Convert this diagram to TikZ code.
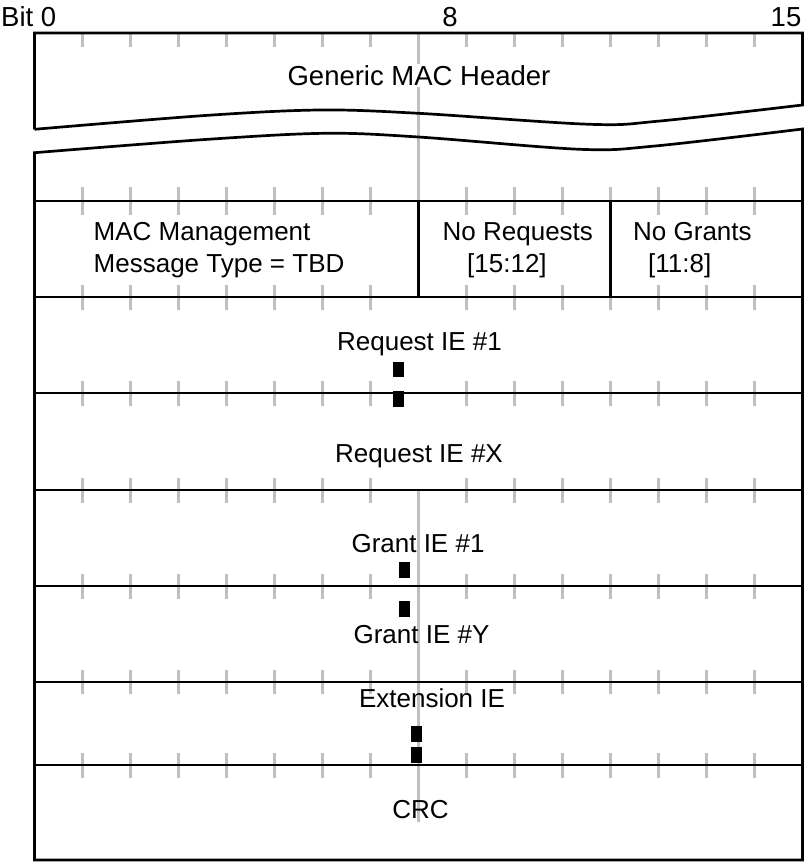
\documentclass[tikz,border=0pt]{standalone}
\usepackage{fontspec}
\setmainfont{Liberation Sans}
\definecolor{tickgray}{RGB}{192,192,192}
\begin{document}
\begin{tikzpicture}[x=1pt,y=-1pt,
  frame/.style={line width=2.7pt, black, line join=miter},
  tickln/.style={line width=2.5pt, tickgray},
  lbl/.style={inner sep=0pt, font=\fontsize{26}{31}\selectfont},
  toplbl/.style={inner sep=0pt, font=\fontsize{27.5}{32}\selectfont},
  blk/.style={fill=black}]
\useasboundingbox (0,0) rectangle (804,862);
% top ticks
\foreach \i in {1,...,7,9,10,11,12,13,14,15} {\draw[tickln] ({34.5+48*\i},33) -- ++(0,14);}
% boundary ticks (not at centre)
\foreach \y/\a/\b in {201/14/14,297/12/13,393/12/13,490/12/13,586/12/13,682/12/12,765/12/13} {
  \foreach \i in {1,...,7,9,10,11,12,13,14,15} {\draw[tickln] ({34.5+48*\i},\y-\a) -- ({34.5+48*\i},\y+\b);}
}
% centre lines
\draw[tickln] (418.5,33) -- (418.5,201);
\draw[tickln] (418.5,490) -- (418.5,822);
% header part of frame
\draw[frame] (34.5,129.3) -- (34.5,33) -- (802.5,33) -- (802.5,105)
  -- plot[smooth,tension=0.55] coordinates {(802.5,105) (660,121) (590,124.3) (418.5,113.3) (320,110) (205,115.5) (34.5,129.3)};
% lower part of frame
\draw[frame] plot[smooth,tension=0.55] coordinates {(34.5,152.7) (205,139.5) (325,133.3) (418.5,137) (580,149.3) (655,146) (802.5,129)}
  -- (802.5,860) -- (34.5,860) -- cycle;
% row separators
\foreach \y in {201,297,393,490,586,682,765} {\draw[frame] (34.5,\y) -- (802.5,\y);}
% field dividers
\draw[frame] (418.5,201) -- (418.5,297);
\draw[frame] (610.5,201) -- (610.5,297);
% texts
\node[toplbl, anchor=base west] (bit0) at (1,26) {Bit 0};
\node[toplbl, anchor=base] (b8) at (450,26) {8};
\node[toplbl, anchor=base] (b15) at (786,26) {15};
\node[toplbl, anchor=base, fill=white, inner sep=1.5pt] (gmh) at (419,85) {Generic MAC Header};
\node[lbl, anchor=base west] (mm1) at (93.5,240) {MAC Management};
\node[lbl, anchor=base west] (mm2) at (93.5,272) {Message Type = TBD};
\node[lbl, anchor=base west] (nr1) at (442.5,240) {No Requests};
\node[lbl, anchor=base west] (nr2) at (467,272) {[15:12]};
\node[lbl, anchor=base west] (ng1) at (633,240) {No Grants};
\node[lbl, anchor=base west] (ng2) at (648,272) {[11:8]};
\node[lbl, anchor=base] (rq1) at (419.5,350) {Request IE \#1};
\node[lbl, anchor=base] (rqx) at (419,462) {Request IE \#X};
\node[lbl, anchor=base] (gr1) at (418,552) {Grant IE \#1};
\node[lbl, anchor=base] (gry) at (421.5,643) {Grant IE \#Y};
\node[lbl, anchor=base] (ext) at (432,707) {Extension IE};
\node[lbl, anchor=base] (crc) at (420.5,818) {CRC};
% ellipsis markers
\fill[blk] (393,362) rectangle (404,377);
\fill[blk] (393,391) rectangle (404,407);
\fill[blk] (399,562) rectangle (410,578);
\fill[blk] (399,601) rectangle (410,617);
\fill[blk] (411,726) rectangle (422,742);
\fill[blk] (411,747) rectangle (422,763);
\end{tikzpicture}
\end{document}
